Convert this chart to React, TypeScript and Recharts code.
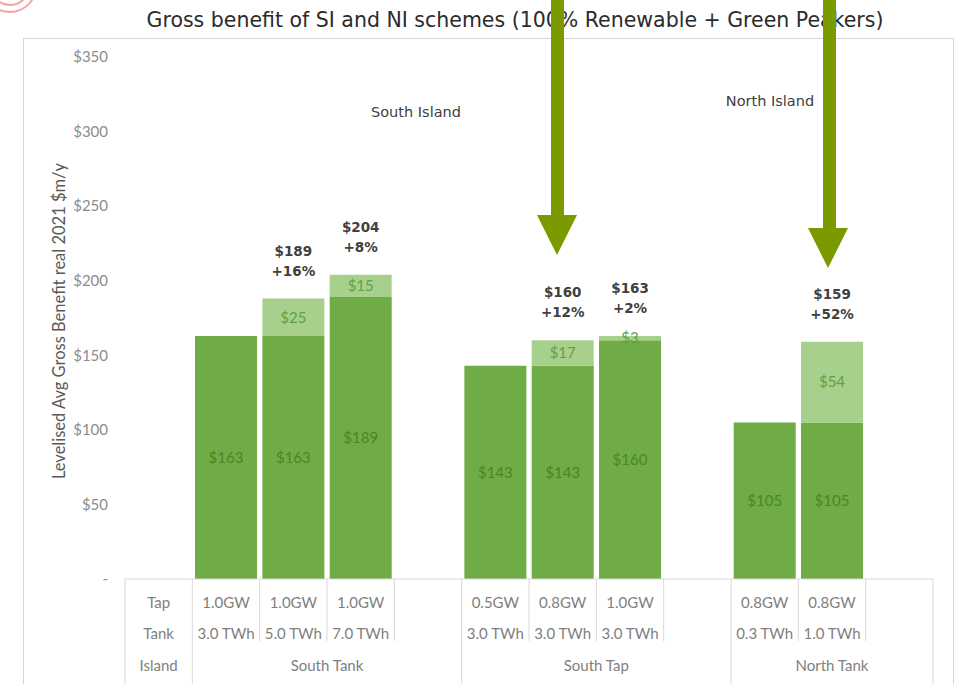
import { BarChart, Bar, XAxis, YAxis, LabelList } from 'recharts';

// categories along the x axis (first slot holds the row titles of the table)
const categories = ['head', 'st1', 'st2', 'st3', 'gapA', 'sp1', 'sp2', 'sp3', 'gapB', 'nt1', 'nt2', 'gapC'];
const taps = ['Tap', '1.0GW', '1.0GW', '1.0GW', '', '0.5GW', '0.8GW', '1.0GW', '', '0.8GW', '0.8GW', ''];
const tanks = ['Tank', '3.0 TWh', '5.0 TWh', '7.0 TWh', '', '3.0 TWh', '3.0 TWh', '3.0 TWh', '', '0.3 TWh', '1.0 TWh', ''];
const islands = [
  'Island',
  'South Tank', 'South Tank', 'South Tank', 'South Tank',
  'South Tap', 'South Tap', 'South Tap', 'South Tap',
  'North Tank', 'North Tank', 'North Tank',
];

// $m/y
const baseValues = [null, 163, 163, 189, null, 143, 143, 160, null, 105, 105, null];
const extraValues = [null, null, 25, 15, null, null, 17, 3, null, null, 54, null];
const totalLabels = ['', '', '$189', '$204', '', '', '$160', '$163', '', '', '$159', ''];
const pctLabels = ['', '', '+16%', '+8%', '', '', '+12%', '+2%', '', '', '+52%', ''];

const yTicks = [0, 50, 100, 150, 200, 250, 300, 350];

const W = 958;
const H = 684;
const margin = { top: 57, right: 25, bottom: 0, left: 65 };
const Y_AXIS_W = 60;
const X_AXIS_H = 105;
const PLOT_LEFT = margin.left + Y_AXIS_W;
const PLOT_W = W - PLOT_LEFT - margin.right;
const PLOT_BOTTOM = H - X_AXIS_H - margin.bottom;
const BAND = PLOT_W / categories.length;

const DARK = '#6fac46';
const LIGHT = '#a8d08d';
const ARROW = '#7a9a00';

const data = categories.map((key, i) => ({
  key,
  base: baseValues[i],
  extra: extraValues[i],
  total: totalLabels[i],
  pct: pctLabels[i],
}));

const tableText = { fontFamily: 'Lato', fontSize: 15, fill: '#7f7f7f', textAnchor: 'middle' as const };
const topLabel = { fontFamily: 'DejaVu Sans', fontSize: 13.5, fontWeight: 'bold', fill: '#404040' };

const TableTick = (props: any) => {
  const { x } = props;
  const i = props.index ?? props.payload?.index;
  const left = x - BAND / 2;
  const groupStart = i === 0 || islands[i] !== islands[i - 1];
  let span = 1;
  while (i + span < islands.length && islands[i + span] === islands[i]) span++;
  const last = i === categories.length - 1;
  return (
    <g>
      <line x1={left} x2={left} y1={PLOT_BOTTOM} y2={groupStart ? H : PLOT_BOTTOM + 62} stroke="#d9d9d9" />
      {last && <line x1={left + BAND} x2={left + BAND} y1={PLOT_BOTTOM} y2={H} stroke="#d9d9d9" />}
      <text x={x} y={PLOT_BOTTOM + 29} {...tableText}>{taps[i]}</text>
      <text x={x} y={PLOT_BOTTOM + 60} {...tableText}>{tanks[i]}</text>
      {groupStart && (
        <text x={left + (span * BAND) / 2} y={PLOT_BOTTOM + 92} {...tableText}>{islands[i]}</text>
      )}
    </g>
  );
};

const money = (v: any) => (v ? `$${v}` : '');

export default function App() {
  return (
    <div style={{ position: 'absolute', left: 0, top: 0, width: W, height: H, background: '#fff' }}>
      <BarChart width={W} height={H} data={data} margin={margin} barCategoryGap="4%">
        <XAxis
          dataKey="key"
          height={X_AXIS_H}
          interval={0}
          tickLine={false}
          axisLine={{ stroke: '#d9d9d9' }}
          tick={<TableTick />}
        />
        <YAxis
          width={Y_AXIS_W}
          domain={[0, 350]}
          ticks={yTicks}
          axisLine={false}
          tickLine={false}
          tickSize={0}
          tickMargin={17}
          tickFormatter={(v) => (v === 0 ? '-' : `$${v}`)}
          tick={{ fontFamily: 'Lato', fontSize: 15, fill: '#8c8c8c' }}
        />
        <Bar dataKey="base" stackId="a" fill={DARK} isAnimationActive={false}>
          <LabelList
            dataKey="base"
            position="center"
            formatter={money}
            style={{ fontFamily: 'Lato', fontSize: 15, fill: '#4a8527' }}
          />
        </Bar>
        <Bar dataKey="extra" stackId="a" fill={LIGHT} isAnimationActive={false}>
          <LabelList
            dataKey="extra"
            position="center"
            formatter={money}
            style={{ fontFamily: 'Lato', fontSize: 15, fill: '#64a040' }}
          />
          <LabelList dataKey="total" position="top" offset={43} style={topLabel} />
          <LabelList dataKey="pct" position="top" offset={23} style={topLabel} />
        </Bar>
      </BarChart>

      <svg
        width={W}
        height={H}
        style={{ position: 'absolute', left: 0, top: 0, pointerEvents: 'none' }}
      >
        {/* logo fragment, top-left corner */}
        <circle cx={10} cy={-14} r={26} fill="none" stroke="#f6a5a5" strokeWidth={2} />
        <circle cx={10} cy={-14} r={19} fill="none" stroke="#f6a5a5" strokeWidth={2} />

        <rect x={23.5} y={38.5} width={930} height={700} fill="none" stroke="#d6d6d6" />

        <text
          x={515}
          y={27}
          textAnchor="middle"
          style={{ fontFamily: 'DejaVu Sans', fontSize: 20.5, fill: '#2b2b2b' }}
        >
          Gross benefit of SI and NI schemes (100% Renewable + Green Peakers)
        </text>

        <text
          transform="translate(65 321) rotate(-90)"
          textAnchor="middle"
          style={{ fontFamily: 'Lato', fontSize: 16.5, fill: '#595959' }}
        >
          Levelised Avg Gross Benefit real 2021 $m/y
        </text>

        <text x={416} y={117} textAnchor="middle" style={{ fontFamily: 'DejaVu Sans', fontSize: 14.5, fill: '#404040' }}>
          South Island
        </text>
        <text x={770} y={106} textAnchor="middle" style={{ fontFamily: 'DejaVu Sans', fontSize: 14.5, fill: '#404040' }}>
          North Island
        </text>

        {/* callout arrows */}
        <rect x={551} y={0} width={13} height={216} fill={ARROW} />
        <polygon points="537,215 577,215 557,255" fill={ARROW} />
        <rect x={823} y={0} width={13} height={229} fill={ARROW} />
        <polygon points="808,228 848,228 828,268" fill={ARROW} />
      </svg>
    </div>
  );
}
